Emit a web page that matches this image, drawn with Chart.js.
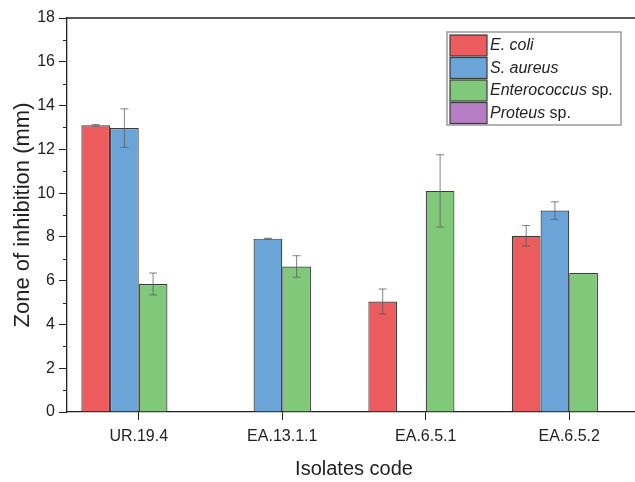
<!DOCTYPE html>
<html>
<head>
<meta charset="utf-8">
<script src="https://cdn.jsdelivr.net/npm/chart.js@4"></script>
<style>
  html, body { margin: 0; padding: 0; background: #fff; overflow: hidden; }
  #wrap { position: absolute; left: 0; top: 0; width: 641px; height: 482px; }
</style>
</head>
<body>
<div id="wrap"><canvas id="chart"></canvas></div>
<script>
// data
const categories = ['UR.19.4', 'EA.13.1.1', 'EA.6.5.1', 'EA.6.5.2'];
const ecoli = [13.1, null, 5.05, 8.05];
const ecoliErr = [0.04, null, 0.57, 0.47];
const saureus = [12.97, 7.92, null, 9.2];
const saureusErr = [0.88, 0.02, null, 0.4];
const entero = [5.85, 6.65, 10.1, 6.35];
const enteroErr = [0.5, 0.49, 1.65, 0];
const proteus = [null, null, null, null];
const proteusErr = [null, null, null, null];

const speciesItalic = ['E. coli', 'S. aureus', 'Enterococcus', 'Proteus'];
const speciesSuffix = ['', '', ' sp.', ' sp.'];
const colors = ['#ec5b5d', '#6ba5d7', '#80c87a', '#b57ec5'];

const FONT = '"Liberation Sans", Arial, sans-serif';

const seriesValues = [ecoli, saureus, entero, proteus];
const seriesErrors = [ecoliErr, saureusErr, enteroErr, proteusErr];

const datasets = seriesValues.map((vals, i) => ({
    label: speciesItalic[i] + speciesSuffix[i],
    data: vals,
    errors: seriesErrors[i],
    backgroundColor: colors[i],
    borderColor: '#3b3b3b',
    borderWidth: 1.2,
    categoryPercentage: 0.8,
    barPercentage: 1.0
}));

// error bars, minor ticks, top frame and the legend box
const extras = {
    id: 'extras',
    afterDatasetsDraw(chart) {
        const ctx = chart.ctx;
        const y = chart.scales.y;
        ctx.save();
        chart.data.datasets.forEach((ds, i) => {
            const meta = chart.getDatasetMeta(i);
            meta.data.forEach((bar, j) => {
                const v = ds.data[j], e = ds.errors[j];
                if (v == null || !e) return;
                const yt = y.getPixelForValue(v + e);
                const yb = y.getPixelForValue(v - e);
                ctx.strokeStyle = 'rgba(90,90,90,0.75)';
                ctx.lineWidth = 1;
                ctx.beginPath();
                ctx.moveTo(bar.x, yt); ctx.lineTo(bar.x, yb);
                ctx.moveTo(bar.x - 4, yt); ctx.lineTo(bar.x + 4, yt);
                ctx.moveTo(bar.x - 4, yb); ctx.lineTo(bar.x + 4, yb);
                ctx.stroke();
            });
        });
        ctx.restore();
    },
    afterDraw(chart) {
        const ctx = chart.ctx;
        const a = chart.chartArea;
        const y = chart.scales.y;
        ctx.save();
        ctx.strokeStyle = '#222';
        ctx.lineWidth = 1;
        // minor ticks
        ctx.beginPath();
        for (let v = 1; v < 18; v += 2) {
            const py = Math.round(y.getPixelForValue(v)) + 0.5;
            ctx.moveTo(a.left - 4, py); ctx.lineTo(a.left, py);
        }
        ctx.stroke();
        // top frame
        ctx.lineWidth = 1.3;
        ctx.beginPath();
        ctx.moveTo(a.left, a.top); ctx.lineTo(a.right, a.top);
        ctx.stroke();

        // legend
        const bx = 447, by = 32, bw = 174, bh = 93, row = 22.5;
        ctx.fillStyle = '#fff';
        ctx.fillRect(bx, by, bw, bh);
        ctx.strokeStyle = '#9a9a9a';
        ctx.lineWidth = 1.5;
        ctx.strokeRect(bx, by, bw, bh);
        ctx.textBaseline = 'middle';
        speciesItalic.forEach((name, i) => {
            const ry = by + 3 + i * row;
            ctx.fillStyle = colors[i];
            ctx.fillRect(bx + 3, ry, 37, 21);
            ctx.strokeStyle = '#3b3b3b';
            ctx.lineWidth = 1.2;
            ctx.strokeRect(bx + 3, ry, 37, 21);
            ctx.fillStyle = '#222';
            ctx.font = 'italic 16px ' + FONT;
            ctx.fillText(name, bx + 43, ry + 11);
            const w = ctx.measureText(name).width;
            ctx.font = '16px ' + FONT;
            ctx.fillText(speciesSuffix[i], bx + 43 + w, ry + 11);
        });
        ctx.restore();
    }
};

new Chart(document.getElementById('chart'), {
    type: 'bar',
    data: { labels: categories, datasets },
    options: {
        responsive: true,
        maintainAspectRatio: false,
        animation: false,
        layout: { padding: { top: 18, right: 0, left: 0, bottom: 0 } },
        plugins: { legend: { display: false }, tooltip: { enabled: false } },
        scales: {
            x: {
                afterFit: s => { s.height = 70; },
                grid: { drawOnChartArea: false, offset: false, tickLength: 8, color: '#222' },
                border: { color: '#222', width: 1.3 },
                ticks: { color: '#222', font: { family: FONT, size: 16 }, padding: 7 },
                title: { display: true, text: 'Isolates code', color: '#222', font: { family: FONT, size: 20 }, padding: { top: 0, bottom: 1 } }
            },
            y: {
                min: 0, max: 18,
                afterFit: s => { s.width = 67; },
                grid: { drawOnChartArea: false, tickLength: 8, color: '#222' },
                border: { color: '#222', width: 1.3 },
                ticks: { stepSize: 2, color: '#222', font: { family: FONT, size: 16 }, padding: 4 },
                title: { display: true, text: 'Zone of inhibition (mm)', color: '#222', font: { family: FONT, size: 22 }, padding: { top: 10, bottom: 0 } }
            }
        }
    },
    plugins: [extras]
});
</script>
</body>
</html>
